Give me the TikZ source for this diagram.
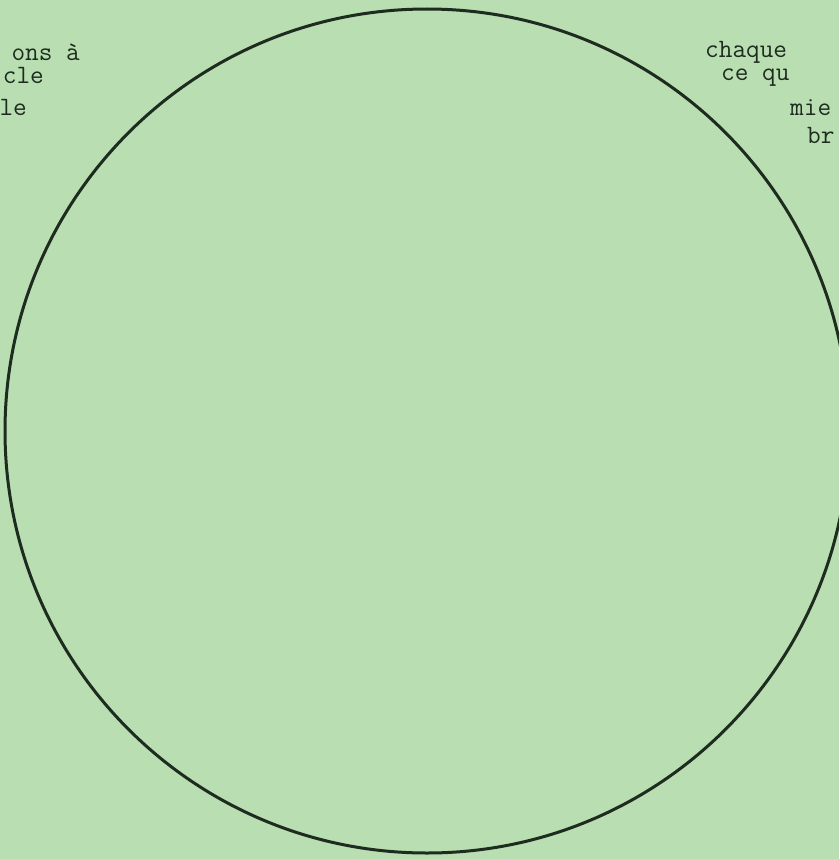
\documentclass[tikz,border=0pt]{standalone}
\usepackage{fontspec}
\definecolor{paper}{RGB}{185,222,177}
\definecolor{ink}{RGB}{30,44,32}
\begin{document}
\begin{tikzpicture}[x=1pt,y=-1pt]
\tikzset{typed/.style={inner sep=0pt,text=ink,font=\fontsize{26.5}{30}\selectfont\ttfamily}}
\useasboundingbox (0,0) rectangle (839,859);
\clip (0,0) rectangle (839,859);
\fill[paper] (0,0) rectangle (839,859);

\draw[ink,line width=3pt] (427,431) circle (422);

\node[typed,anchor=base east] (l1) at (80,60) {ons à};
\node[typed,anchor=base east] (l2) at (44,83) {cle};
\node[typed,anchor=base east] (l3) at (27,115) {le};

\node[typed,anchor=base west] (r1) at (705,58) {chaque};
\node[typed,anchor=base west] (r2) at (721,81) {ce qu};
\node[typed,anchor=base west] (r3) at (790,115) {mie};
\node[typed,anchor=base west] (r4) at (807,143) {br};
\end{tikzpicture}
\end{document}
